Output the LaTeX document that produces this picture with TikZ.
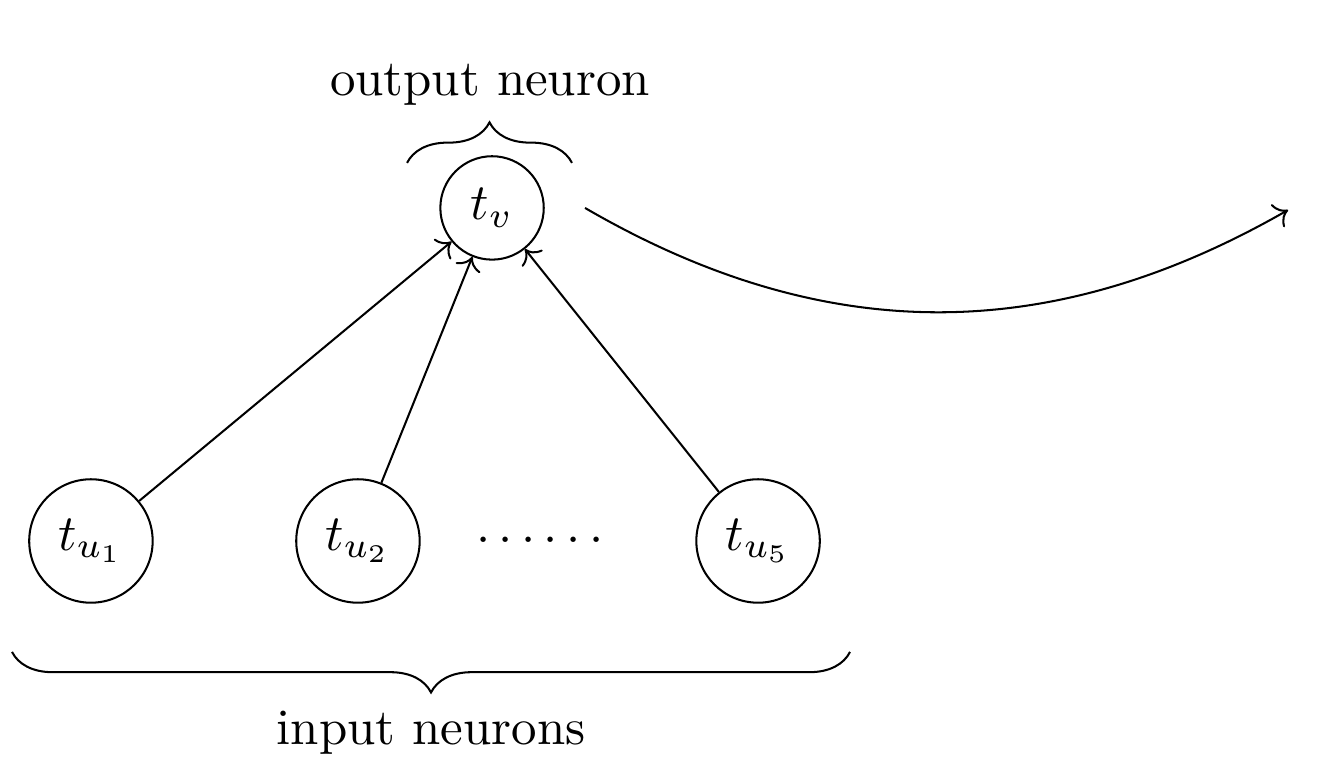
\documentclass[tikz,border=0pt]{standalone}
\usepackage{amsmath,amssymb}
\usetikzlibrary{arrows.meta,positioning,calc,decorations.pathreplacing}

\begin{document}
\begin{tikzpicture}[>=To,x=1cm,y=1cm,
  neuron/.style={draw,circle,inner sep=3.2pt},
  brace/.style={decorate,decoration={brace,amplitude=0.28cm}}]
\useasboundingbox (0,0) rectangle (9.24,5.40);
\node[neuron] (v) at (3.398,3.964) {$t_v$};
\node[neuron] (u1) at (0.628,1.664) {$t_{u_1}$};
\node[neuron] (u2) at (2.472,1.664) {$t_{u_2}$};
\node (dots) at (3.757,1.664) {$\cdots\cdots$};
\node[neuron] (u5) at (5.235,1.664) {$t_{u_5}$};
\draw[->] (u1) -- (v);
\draw[->] (u2) -- (v);
\draw[->] (u5) -- (v);
\coordinate (src) at (4.040,3.964);
\coordinate (dst) at (8.895,3.950);
\draw[->] (src) to[bend right=30] (dst);
\draw[brace] (2.811,4.275) -- (3.950,4.275);
\node (outlbl) at (3.384,4.813) {output neuron};
\draw[brace] (5.870,0.898) -- (0.083,0.898);
\node (inlbl) at (2.977,0.338) {input neurons};
\end{tikzpicture}
\end{document}
